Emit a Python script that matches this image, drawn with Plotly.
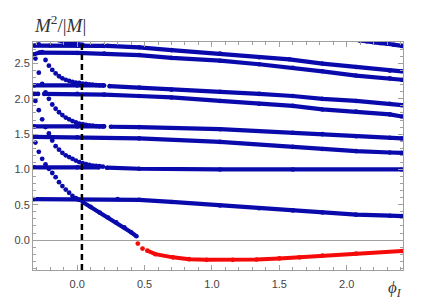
import plotly.graph_objects as go

# ---------------- data (phi_I, M^2/|M|) ----------------
# dense, nearly horizontal branches (blue)
L1_phi = [-0.32, -0.2, 0.0, 0.2, None, 0.225, 0.46, 0.7, 1.06, 1.35, 1.575, 1.82, 2.07, 2.32, 2.41]
L1_m   = [2.755, 2.755, 2.755, 2.75, None, 2.75, 2.73, 2.69, 2.64, 2.59, 2.56, 2.50, 2.45, 2.40, 2.39]
L2_phi = [-0.32, -0.28, 0.0, 0.2, 0.46, 0.7, 1.06, 1.35, 1.6, 1.82, 2.07, 2.32, 2.41]
L2_m   = [2.63, 2.655, 2.65, 2.64, 2.62, 2.58, 2.54, 2.49, 2.44, 2.39, 2.33, 2.29, 2.27]
L3_phi = [-0.32, 0.0, 0.2, None, 0.24, 0.46, 0.7, 1.06, 1.35, 1.6, 1.82, 2.07, 2.32, 2.41]
L3_m   = [2.19, 2.19, 2.19, None, 2.18, 2.16, 2.13, 2.10, 2.07, 2.04, 2.00, 1.97, 1.93, 1.91]
L4_phi = [-0.32, -0.29, None, -0.245, 0.0, 0.2, 0.46, 0.7, 1.06, 1.35, 1.6, 1.82, 2.07, 2.32, 2.41]
L4_m   = [2.07, 2.07, None, 2.07, 2.07, 2.06, 2.04, 2.02, 1.97, 1.93, 1.90, 1.85, 1.82, 1.78, 1.75]
L5_phi = [-0.32, 0.0, 0.2, None, 0.25, 0.46, 1.06, 1.6, 1.82, 2.07, 2.32, 2.41]
L5_m   = [1.61, 1.61, 1.61, None, 1.605, 1.60, 1.57, 1.52, 1.50, 1.47, 1.45, 1.44]
L6_phi = [-0.32, 0.0, 0.46, 1.06, 1.6, 1.82, 2.07, 2.32, 2.41]
L6_m   = [1.46, 1.455, 1.44, 1.39, 1.32, 1.29, 1.26, 1.24, 1.235]
L7_phi = [-0.32, 0.0, 0.16, None, 0.22, 0.46, 1.06, 1.6, 2.41]
L7_m   = [1.03, 1.03, 1.03, None, 1.025, 1.01, 1.00, 1.00, 1.00]
L8_phi = [-0.32, 0.0, 0.3, 0.46, 0.7, 1.06, 1.35, 1.6, 1.82, 2.07, 2.32, 2.41]
L8_m   = [0.58, 0.58, 0.58, 0.57, 0.54, 0.49, 0.45, 0.42, 0.39, 0.36, 0.345, 0.34]
B_phi  = [0.04, 0.1, 0.167, 0.23, 0.29, 0.35, 0.40, 0.44]
B_m    = [0.54, 0.47, 0.39, 0.32, 0.25, 0.18, 0.11, 0.055]
TL_phi = [-0.135, -0.11, -0.085, -0.06, -0.035, -0.01, 0.015, 0.04]
TL_m   = [2.83, 2.815, 2.80, 2.79, 2.78, 2.775, 2.77, 2.765]
TR_phi = [2.05, 2.1, 2.15, 2.2, 2.25, 2.3, 2.35, 2.41]
TR_m   = [2.84, 2.825, 2.815, 2.80, 2.79, 2.78, 2.765, 2.75]

# sparse, steep branches on the left (blue dots)
S_phi = [-0.31, -0.285, -0.26, -0.235, -0.21, -0.185, -0.16, -0.135, -0.11, -0.085, -0.06,
         -0.035, -0.01, 0.015, 0.04, 0.065, 0.09, 0.115, 0.14, 0.165, 0.19]
S1_m = [1.38, 1.25, 1.15, 1.07, 1.01, 0.95, 0.89, 0.82, 0.765, 0.715, 0.67, 0.625, 0.595, 0.57]
S2_m = [1.97, 1.84, 1.71, 1.60, 1.51, 1.41, 1.33, 1.28, 1.235, 1.20, 1.175, 1.15, 1.125, 1.105,
        1.09, 1.075, 1.065, 1.055, 1.05, 1.045, 1.04]
S3_m = [2.57, 2.37, 2.21, 2.09, 2.00, 1.92, 1.86, 1.81, 1.77, 1.735, 1.71, 1.685, 1.665, 1.65,
        1.64, 1.63, 1.625, 1.62, 1.615, 1.61, 1.61]
S4_m = [2.89, 2.77, 2.66, 2.55, 2.47, 2.41, 2.36, 2.32, 2.29, 2.27, 2.255, 2.24, 2.23, 2.225,
        2.215, 2.21, 2.205, 2.20, 2.195, 2.19, 2.19]

# negative branch (red)
RD_phi = [0.45, 0.485]
RD_m   = [-0.05, -0.12]
R_phi  = [0.52, 0.58, 0.71, 0.83, 0.96, 1.155, 1.33, 1.50, 1.65, 1.82, 2.07, 2.41]
R_m    = [-0.15, -0.20, -0.245, -0.27, -0.28, -0.28, -0.275, -0.26, -0.245, -0.22, -0.19, -0.155]

DASH_PHI = 0.035
X_TICKS = [0.0, 0.5, 1.0, 1.5, 2.0]
Y_TICKS = [0.0, 0.5, 1.0, 1.5, 2.0, 2.5]

BLUE = "rgb(10,10,172)"
RED = "rgb(245,10,10)"

fig = go.Figure()

for xs, ys in [(L1_phi, L1_m), (L2_phi, L2_m), (L3_phi, L3_m), (L4_phi, L4_m),
               (L5_phi, L5_m), (L6_phi, L6_m), (L7_phi, L7_m), (L8_phi, L8_m),
               (B_phi, B_m), (TL_phi, TL_m), (TR_phi, TR_m)]:
    fig.add_trace(go.Scatter(x=xs, y=ys, mode="lines+markers",
                             line=dict(color=BLUE, width=4.2),
                             marker=dict(color=BLUE, size=4.6),
                             connectgaps=False, hoverinfo="skip"))

for ys in [S1_m, S2_m, S3_m, S4_m]:
    fig.add_trace(go.Scatter(x=S_phi[:len(ys)], y=ys, mode="markers",
                             marker=dict(color=BLUE, size=4.8), hoverinfo="skip"))

fig.add_trace(go.Scatter(x=R_phi, y=R_m, mode="lines+markers",
                         line=dict(color=RED, width=4.0),
                         marker=dict(color=RED, size=4.6), hoverinfo="skip"))
fig.add_trace(go.Scatter(x=RD_phi, y=RD_m, mode="markers",
                         marker=dict(color=RED, size=4.8), hoverinfo="skip"))

fig.add_shape(type="line", xref="x", yref="y domain", x0=DASH_PHI, x1=DASH_PHI, y0=0, y1=1,
              line=dict(color="black", width=2.5, dash="6px,4px"))

axis_common = dict(
    showgrid=False, ticks="inside", ticklen=5, tickwidth=1, tickcolor="#a0a0a0",
    showline=True, linecolor="#a0a0a0", linewidth=1, mirror="allticks",
    tickformat=".1f", automargin=False,
    tickfont=dict(family="Liberation Sans", size=11, color="#444444"),
    minor=dict(dtick=0.1, tick0=0, ticks="inside", ticklen=3, tickcolor="#a0a0a0", showgrid=False),
)

fig.update_layout(
    width=447, height=306,
    margin=dict(l=33, r=44, t=42, b=36),
    plot_bgcolor="white", paper_bgcolor="white",
    showlegend=False,
    xaxis=dict(range=[-0.328, 2.418], tickmode="array", tickvals=X_TICKS, zeroline=False,
               ticklabelstandoff=4, **axis_common),
    yaxis=dict(range=[-0.424, 2.805], tickmode="array", tickvals=Y_TICKS,
               zeroline=True, zerolinecolor="#a0a0a0", zerolinewidth=1, **axis_common),
    annotations=[
        dict(text="<i>M</i><sup>2</sup>/|<i>M</i>|", xref="paper", yref="paper",
             x=-0.004, y=1.08, xanchor="left", yanchor="middle", showarrow=False,
             font=dict(family="Liberation Serif", size=19, color="#333333")),
        dict(text="<i>ϕ</i><sub><i>I</i></sub>", xref="paper", yref="paper",
             x=0.978, y=-0.085, xanchor="center", yanchor="middle", showarrow=False,
             font=dict(family="Liberation Serif", size=17, color="#333333")),
    ],
)

fig.write_html("out.html", config={"displayModeBar": False},
               post_script="document.body.style.margin='0px';")
